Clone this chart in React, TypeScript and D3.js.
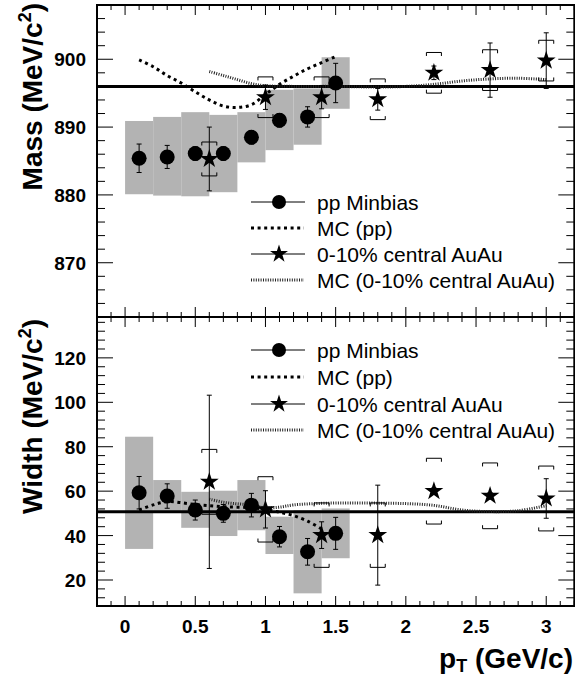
import React from "react";
import * as d3 from "d3";

// ---------- data ----------
const ppPt = [0.1, 0.3, 0.5, 0.7, 0.9, 1.1, 1.3, 1.5];
const ppMass = [885.4, 885.6, 886.1, 886.1, 888.5, 891.0, 891.5, 896.5];
const ppMassStat = [2.1, 1.7, 1.0, 1.0, 1.0, 1.0, 1.5, 2.9];
const ppMassSysLo = [880.1, 879.9, 879.8, 880.4, 884.8, 886.6, 887.4, 892.7];
const ppMassSysHi = [890.9, 891.5, 892.2, 891.8, 892.2, 895.5, 895.7, 900.3];

const auPt = [0.6, 1.0, 1.4, 1.8, 2.2, 2.6, 3.0];
const auMass = [885.3, 894.4, 894.4, 894.1, 898.0, 898.4, 899.8];
const auMassStat = [4.7, 1.8, 1.7, 1.6, 1.0, 4.0, 4.1];
const auMassSys = [2.5, 3.0, 3.0, 3.0, 3.0, 3.0, 3.0];

const ppWidth = [59.3, 57.8, 51.5, 50.0, 53.7, 39.5, 32.7, 41.0];
const ppWidthStat = [7.3, 5.5, 4.5, 4.0, 5.3, 4.6, 6.0, 7.2];
const ppWidthSysLo = [34.0, 50.6, 43.5, 39.8, 42.4, 31.7, 14.0, 29.8];
const ppWidthSysHi = [84.5, 65.0, 59.7, 60.2, 65.0, 48.5, 51.4, 52.2];

const auWidth = [64.2, 51.8, 40.2, 40.2, 60.0, 57.9, 56.7];
const auWidthStat = [39.0, 8.4, 6.0, 22.5, 1.5, 1.5, 8.9];
const auWidthSys = [14.6, 14.7, 14.5, 14.5, 14.8, 14.8, 14.6];

const mcPpMassPt = [0.1, 0.2, 0.3, 0.4, 0.5, 0.6, 0.7, 0.8, 0.9, 1.0, 1.1, 1.2, 1.3, 1.4, 1.5];
const mcPpMass = [899.9, 898.9, 897.6, 896.5, 895.2, 894.0, 893.1, 892.9, 893.3, 894.8, 896.3, 897.5, 898.6, 899.5, 900.4];
const mcAuMassPt = [0.6, 0.7, 0.8, 0.9, 1.0, 1.2, 1.5, 1.8, 2.0, 2.2, 2.4, 2.6, 2.8, 3.0];
const mcAuMass = [898.2, 897.6, 897.0, 896.4, 896.1, 896.0, 896.0, 895.9, 896.0, 896.3, 896.8, 897.1, 897.2, 897.0];

const mcPpWidthPt = [0.1, 0.2, 0.3, 0.4, 0.5, 0.6, 0.7, 0.8, 0.9, 1.0, 1.1, 1.2, 1.3, 1.4];
const mcPpWidth = [51.5, 53.8, 55.3, 54.8, 54.0, 53.5, 53.0, 52.8, 52.5, 51.8, 50.5, 49.0, 46.5, 43.0];
const mcAuWidthPt = [0.6, 0.7, 0.8, 0.9, 1.0, 1.1, 1.2, 1.4, 1.6, 1.8, 2.0, 2.2, 2.4, 2.6, 2.8, 3.0];
const mcAuWidth = [56.4, 55.0, 54.3, 53.8, 52.5, 52.8, 53.8, 54.5, 54.7, 54.6, 54.4, 53.6, 51.5, 50.8, 51.2, 53.5];

const pdgMass = 896;
const pdgWidth = 50.7;

const xTickLabels = ["0", "0.5", "1", "1.5", "2", "2.5", "3"];
const massTickLabels = [870, 880, 890, 900];
const widthTickLabels = [20, 40, 60, 80, 100, 120];
const legendLabels = ["pp Minbias", "MC (pp)", "0-10% central AuAu", "MC (0-10% central AuAu)"];

// ---------- layout ----------
const W = 575;
const H = 679;
const FONT = "'Liberation Sans', Arial, Helvetica, sans-serif";

const x = d3.scaleLinear().domain([-0.2, 3.2]).range([97, 574.3]);
const yM = d3.scaleLinear().domain([862, 908]).range([317, 5]);
const yW = d3.scaleLinear().domain([8.3, 138.4]).range([606, 317]);

const starPath = d3.symbol(d3.symbolStar, 110)() as string;
const starPathLeg = d3.symbol(d3.symbolStar, 100)() as string;

type PanelProps = {
  y: d3.ScaleLinear<number, number>;
  yTicks: number[];
  yMajor: (v: number) => boolean;
  yLabels: number[];
  ppY: number[];
  ppStat: number[];
  sysLo: number[];
  sysHi: number[];
  auY: number[];
  auStat: number[];
  auSys: number[];
  mcPpX: number[];
  mcPpY: number[];
  mcAuX: number[];
  mcAuY: number[];
  ref: number;
  legendY: number[];
  showXLabels: boolean;
};

function Panel(p: PanelProps) {
  const [y0, y1] = p.y.range(); // bottom, top
  const xl = x.range()[0];
  const xr = x.range()[1];
  const line = d3.line<[number, number]>().curve(d3.curveCatmullRom.alpha(0.5));
  const mcPpD = line(p.mcPpX.map((v, i) => [x(v), p.y(p.mcPpY[i])] as [number, number]));
  const mcAuD = line(p.mcAuX.map((v, i) => [x(v), p.y(p.mcAuY[i])] as [number, number]));
  const xMinor = d3.range(-2, 33).map((i) => i / 10);
  const cap = 2.5;
  const bw = 7.5; // half width of sys bracket
  const bt = 3.5; // bracket tick length
  return (
    <g>
      {/* systematic boxes */}
      {ppPt.map((v, i) => (
        <rect
          key={"b" + i}
          x={x(v - 0.1)}
          y={p.y(p.sysHi[i])}
          width={x(v + 0.1) - x(v - 0.1)}
          height={p.y(p.sysLo[i]) - p.y(p.sysHi[i])}
          fill="#b3b3b3"
        />
      ))}
      {/* reference line */}
      <line x1={xl} x2={xr} y1={p.y(p.ref)} y2={p.y(p.ref)} stroke="#000" strokeWidth={3} />
      {/* MC curves */}
      <path d={mcPpD as string} fill="none" stroke="#000" strokeWidth={3} strokeDasharray="3 3.6" />
      <path d={mcAuD as string} fill="none" stroke="#222" strokeWidth={3} strokeDasharray="1 1.4" />
      {/* AuAu sys brackets */}
      {auPt.map((v, i) => {
        const cx = x(v);
        const top = p.y(p.auY[i] + p.auSys[i]);
        const bot = p.y(p.auY[i] - p.auSys[i]);
        return (
          <g key={"s" + i} stroke="#000" strokeWidth={1} fill="none">
            <path d={`M${cx - bw},${top + bt}V${top}H${cx + bw}V${top + bt}`} />
            <path d={`M${cx - bw},${bot - bt}V${bot}H${cx + bw}V${bot - bt}`} />
          </g>
        );
      })}
      {/* pp stat errors */}
      {ppPt.map((v, i) => {
        const cx = x(v);
        const t = p.y(p.ppY[i] + p.ppStat[i]);
        const b = p.y(p.ppY[i] - p.ppStat[i]);
        return (
          <g key={"pe" + i} stroke="#000" strokeWidth={1}>
            <line x1={cx} x2={cx} y1={t} y2={b} />
            <line x1={cx - cap} x2={cx + cap} y1={t} y2={t} />
            <line x1={cx - cap} x2={cx + cap} y1={b} y2={b} />
          </g>
        );
      })}
      {/* AuAu stat errors */}
      {auPt.map((v, i) => {
        const cx = x(v);
        const t = p.y(p.auY[i] + p.auStat[i]);
        const b = p.y(p.auY[i] - p.auStat[i]);
        return (
          <g key={"ae" + i} stroke="#000" strokeWidth={1}>
            <line x1={cx} x2={cx} y1={t} y2={b} />
            <line x1={cx - cap} x2={cx + cap} y1={t} y2={t} />
            <line x1={cx - cap} x2={cx + cap} y1={b} y2={b} />
          </g>
        );
      })}
      {/* markers */}
      {ppPt.map((v, i) => (
        <circle key={"c" + i} cx={x(v)} cy={p.y(p.ppY[i])} r={7.5} fill="#000" />
      ))}
      {auPt.map((v, i) => (
        <path key={"st" + i} d={starPath} transform={`translate(${x(v)},${p.y(p.auY[i])})`} fill="#000" />
      ))}
      {/* legend */}
      <g fontFamily={FONT} fontSize={21}>
        <line x1={251} x2={305} y1={p.legendY[0]} y2={p.legendY[0]} stroke="#000" strokeWidth={1} />
        <circle cx={279} cy={p.legendY[0]} r={7} fill="#000" />
        <line x1={251} x2={304} y1={p.legendY[1]} y2={p.legendY[1]} stroke="#000" strokeWidth={3} strokeDasharray="3 3.6" />
        <line x1={251} x2={305} y1={p.legendY[2]} y2={p.legendY[2]} stroke="#000" strokeWidth={1} />
        <path d={starPathLeg} transform={`translate(279,${p.legendY[2]})`} fill="#000" />
        <line x1={251} x2={304} y1={p.legendY[3]} y2={p.legendY[3]} stroke="#222" strokeWidth={3} strokeDasharray="1 1.4" />
        {legendLabels.map((t, i) => (
          <text key={"lt" + i} x={317} y={p.legendY[i] + 7.5} fill="#000">
            {t}
          </text>
        ))}
      </g>
      {/* frame */}
      <rect x={xl} y={y1} width={xr - xl} height={y0 - y1} fill="none" stroke="#000" strokeWidth={2} />
      {/* x ticks */}
      {xMinor.map((v, i) => {
        const major = Math.round(v * 10) % 5 === 0;
        const len = major ? 10 : 5;
        const px = x(v);
        return (
          <g key={"xt" + i} stroke="#000" strokeWidth={1}>
            <line x1={px} x2={px} y1={y1} y2={y1 + len} />
            <line x1={px} x2={px} y1={y0} y2={y0 - len} />
          </g>
        );
      })}
      {/* y ticks */}
      {p.yTicks.map((v, i) => {
        const major = p.yMajor(v);
        const len = major ? 16 : 8;
        const py = p.y(v);
        return (
          <g key={"yt" + i} stroke="#000" strokeWidth={1}>
            <line x1={xl} x2={xl + len} y1={py} y2={py} />
            <line x1={xr} x2={xr - len} y1={py} y2={py} />
          </g>
        );
      })}
      {/* y tick labels */}
      <g fontFamily={FONT} fontSize={19} fontWeight="bold" textAnchor="end">
        {p.yLabels.map((v) => (
          <text key={"yl" + v} x={86} y={p.y(v) + 7}>
            {v}
          </text>
        ))}
      </g>
      {p.showXLabels && (
        <g fontFamily={FONT} fontSize={19} fontWeight="bold" textAnchor="middle">
          {xTickLabels.map((t) => (
            <text key={"xl" + t} x={x(+t)} y={633}>
              {t}
            </text>
          ))}
        </g>
      )}
    </g>
  );
}

export default function App() {
  return (
    <svg
      width={W}
      height={H}
      viewBox={`0 0 ${W} ${H}`}
      style={{ position: "absolute", left: 0, top: 0, background: "#fff" }}
    >
      <rect x={0} y={0} width={W} height={H} fill="#fff" />
      <Panel
        y={yM}
        yTicks={d3.range(862, 909, 2)}
        yMajor={(v) => v % 10 === 0}
        yLabels={massTickLabels}
        ppY={ppMass}
        ppStat={ppMassStat}
        sysLo={ppMassSysLo}
        sysHi={ppMassSysHi}
        auY={auMass}
        auStat={auMassStat}
        auSys={auMassSys}
        mcPpX={mcPpMassPt}
        mcPpY={mcPpMass}
        mcAuX={mcAuMassPt}
        mcAuY={mcAuMass}
        ref={pdgMass}
        legendY={[202, 228, 254, 280]}
        showXLabels={false}
      />
      <Panel
        y={yW}
        yTicks={d3.range(12, 139, 4)}
        yMajor={(v) => v % 20 === 0}
        yLabels={widthTickLabels}
        ppY={ppWidth}
        ppStat={ppWidthStat}
        sysLo={ppWidthSysLo}
        sysHi={ppWidthSysHi}
        auY={auWidth}
        auStat={auWidthStat}
        auSys={auWidthSys}
        mcPpX={mcPpWidthPt}
        mcPpY={mcPpWidth}
        mcAuX={mcAuWidthPt}
        mcAuY={mcAuWidth}
        ref={pdgWidth}
        legendY={[350, 377, 404, 430]}
        showXLabels={true}
      />
      {/* axis titles */}
      <g fontFamily={FONT} fontWeight="bold" fontSize={28} fill="#000">
        <text transform="translate(42,3) rotate(-90)" textAnchor="end">
          Mass (MeV/c
          <tspan fontSize={18} dy={-11}>2</tspan>
          <tspan dy={11}>)</tspan>
        </text>
        <text transform="translate(42,319) rotate(-90)" textAnchor="end">
          Width (MeV/c
          <tspan fontSize={18} dy={-11}>2</tspan>
          <tspan dy={11}>)</tspan>
        </text>
        <text x={573} y={668} textAnchor="end">
          p<tspan fontSize={18} dy={4}>T</tspan>
          <tspan dy={-4}> (GeV/c)</tspan>
        </text>
      </g>
    </svg>
  );
}
